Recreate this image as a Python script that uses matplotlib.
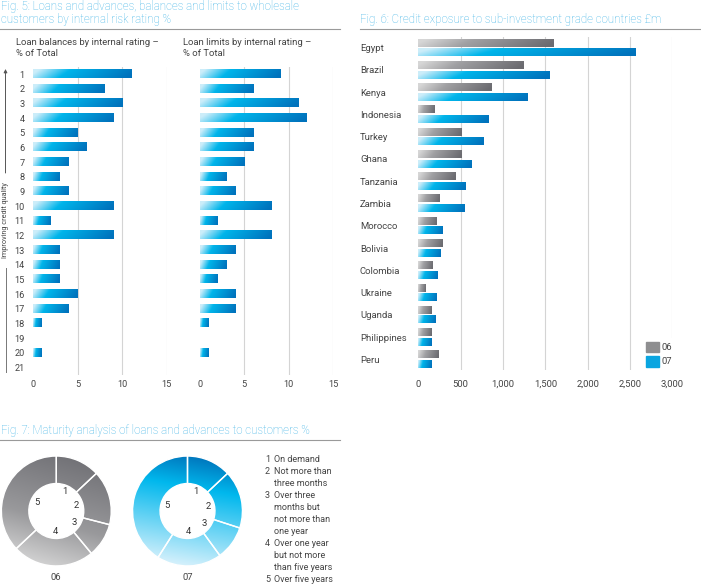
import numpy as np
import matplotlib.pyplot as plt
from matplotlib.lines import Line2D
from matplotlib.patches import Patch
from matplotlib.ticker import FuncFormatter

plt.rcParams['font.family'] = ['Roboto', 'DejaVu Sans']

W, H = 701, 584
TITLE_C = '#3fb3e6'
TEXT_C = '#444444'
GRID_C = '#d4d4d4'

# ---- data ----
ratings = [str(i) for i in range(1, 22)]
loan_balances = [11, 8, 10, 9, 5, 6, 4, 3, 4, 9, 2, 9, 3, 3, 3, 5, 4, 1, 0, 1, 0]
loan_limits = [9, 6, 11, 12, 6, 6, 5, 3, 4, 8, 2, 8, 4, 3, 2, 4, 4, 1, 0, 1, 0]
fig5_ticks = [0, 5, 10, 15]

countries = ['Egypt', 'Brazil', 'Kenya', 'Indonesia', 'Turkey', 'Ghana', 'Tanzania',
             'Zambia', 'Morocco', 'Bolivia', 'Colombia', 'Ukraine', 'Uganda',
             'Philippines', 'Peru']
exposure_06 = [1600, 1250, 870, 200, 515, 515, 440, 250, 215, 290, 170, 90, 155, 165, 240]
exposure_07 = [2570, 1555, 1290, 830, 775, 630, 565, 545, 290, 270, 235, 220, 210, 165, 160]
fig6_ticks = [0, 500, 1000, 1500, 2000, 2500, 3000]

maturity_labels = ['1', '2', '3', '4', '5']
maturity_06 = [13, 16, 10, 24, 37]
maturity_07 = [13, 17, 10, 19, 41]
maturity_legend = [
    ('1', ['On demand']),
    ('2', ['Not more than', 'three months']),
    ('3', ['Over three', 'months but', 'not more than', 'one year']),
    ('4', ['Over one year', 'but not more', 'than five years']),
    ('5', ['Over five years']),
]

BLUE_STOPS = [(0.0, (0.80, 0.93, 0.98)), (0.32, (0.0, 0.71, 0.92)), (1.0, (0.0, 0.45, 0.74))]
GREY_STOPS = [(0.0, (0.84, 0.84, 0.84)), (0.35, (0.63, 0.63, 0.64)), (1.0, (0.42, 0.42, 0.44))]


def ramp(stops, t):
    pos = [s[0] for s in stops]
    out = np.zeros(t.shape + (3,))
    for c in range(3):
        out[..., c] = np.interp(t, pos, [s[1][c] for s in stops])
    return out


def bar_gradient(stops):
    xs = np.linspace(0, 1, 120)
    ys = np.linspace(0, 1, 12)
    t = xs[None, :] + 0.12 * (ys[:, None] - 0.5)
    return ramp(stops, np.clip(t, 0, 1))


def shade_bars(ax, bars, stops):
    img = bar_gradient(stops)
    for b in bars:
        if b.get_width() <= 0:
            continue
        x0, y0, w, h = b.get_x(), b.get_y(), b.get_width(), b.get_height()
        ax.imshow(img, extent=(x0, x0 + w, y0 + h, y0), origin='upper',
                  aspect='auto', zorder=3, interpolation='bilinear')


def px_axes(left, top, width, height):
    return fig.add_axes([left / W, 1 - (top + height) / H, width / W, height / H])


def fx(x):
    return x / W


def fy(y):
    return 1 - y / H


fig = plt.figure(figsize=(W / 100, H / 100), dpi=100)
TITLE_FS = 8.3

# ---- Fig. 5 ----
fig.text(fx(1), fy(10), 'Fig. 5: Loans and advances, balances and limits to wholesale',
         color=TITLE_C, fontsize=TITLE_FS, fontweight='light', va='baseline')
fig.text(fx(1), fy(23.5), 'customers by internal risk rating %',
         color=TITLE_C, fontsize=TITLE_FS, fontweight='light', va='baseline')
fig.add_artist(Line2D([0, fx(340)], [fy(29), fy(29)], color='#9a9a9a', lw=0.8))

for left, vals, sub, show_labels in [
        (33, loan_balances, 'Loan balances by internal rating –\n% of Total', True),
        (199.7, loan_limits, 'Loan limits by internal rating –\n% of Total', False)]:
    ax = px_axes(left, 66.7, 133.7, 308)
    y = np.arange(1, len(ratings) + 1)
    bars = ax.barh(y, vals, height=0.55, color='#00a6e0', zorder=2)
    shade_bars(ax, bars, BLUE_STOPS)
    for t in fig5_ticks[1:]:
        ax.axvline(t, color=GRID_C, lw=0.8, zorder=1)
    ax.set_xlim(0, 15)
    ax.set_ylim(21.5, 0.5)
    ax.set_xticks(fig5_ticks)
    ax.set_yticks(y)
    ax.set_yticklabels(ratings if show_labels else [])
    ax.tick_params(length=0, labelsize=6.6, colors=TEXT_C)
    ax.tick_params(axis='x', pad=4)
    ax.tick_params(axis='y', pad=6)
    for s in ax.spines.values():
        s.set_visible(False)
    fig.text(fx(left - 16.5), fy(45), sub.split('\n')[0], fontsize=6.8, color=TEXT_C,
             va='baseline')
    fig.text(fx(left - 16.5), fy(56), sub.split('\n')[1], fontsize=6.8, color=TEXT_C,
             va='baseline')

fig.text(fx(5.5), fy(220.5), 'Improving credit quality', rotation=90, fontsize=5.2,
         color=TEXT_C, ha='center', va='center')
fig.add_artist(Line2D([fx(5.5), fx(5.5)], [fy(268), fy(372)], color='#777777', lw=0.7))
fig.add_artist(plt.Annotation('', xy=(fx(5.5), fy(69)), xytext=(fx(5.5), fy(173)),
                              xycoords='figure fraction', textcoords='figure fraction',
                              arrowprops=dict(arrowstyle='-|>', color='#555555', lw=0.7,
                                              mutation_scale=5, shrinkA=0, shrinkB=0)))

# ---- Fig. 6 ----
fig.text(fx(360), fy(23.3), 'Fig. 6: Credit exposure to sub-investment grade countries £m',
         color=TITLE_C, fontsize=TITLE_FS, fontweight='light', va='baseline')
fig.add_artist(Line2D([fx(360), 1], [fy(28.5), fy(28.5)], color='#9a9a9a', lw=0.8))

ax6 = px_axes(418.3, 36.6, 254, 333.8)
yc = np.arange(len(countries))
b06 = ax6.barh(yc - 0.215, exposure_06, height=0.34, color='#8e8e90', zorder=2)
b07 = ax6.barh(yc + 0.215, exposure_07, height=0.34, color='#0aa5e0', zorder=2)
shade_bars(ax6, b06, GREY_STOPS)
shade_bars(ax6, b07, BLUE_STOPS)
for t in fig6_ticks[1:]:
    ax6.axvline(t, color=GRID_C, lw=0.8, zorder=1)
ax6.set_xlim(0, 3000)
ax6.set_ylim(len(countries) - 0.5, -0.5)
ax6.set_xticks(fig6_ticks)
ax6.xaxis.set_major_formatter(FuncFormatter(lambda v, p: f'{v:,.0f}'))
ax6.set_yticks(yc)
ax6.set_yticklabels(countries, ha='left')
ax6.tick_params(length=0, labelsize=6.8, colors=TEXT_C)
ax6.tick_params(axis='x', pad=7)
ax6.tick_params(axis='y', pad=42)
for s in ax6.spines.values():
    s.set_visible(False)
leg = ax6.legend([Patch(color='#8e8e90'), Patch(color='#0aa5e0')], ['06', '07'],
                 loc='lower right', bbox_to_anchor=(1.015, 0.0), frameon=True,
                 fontsize=6.8, handlelength=1.4, handleheight=1.4, handletextpad=0.3,
                 labelspacing=0.35, borderpad=0.4, borderaxespad=0.0)
leg.get_frame().set_facecolor('white')
leg.get_frame().set_edgecolor('none')
leg.get_frame().set_alpha(1)
for txt in leg.get_texts():
    txt.set_color(TEXT_C)
leg.set_zorder(5)

# ---- Fig. 7 ----
fig.text(fx(1), fy(434), 'Fig. 7: Maturity analysis of loans and advances to customers %',
         color=TITLE_C, fontsize=TITLE_FS, fontweight='light', va='baseline')
fig.add_artist(Line2D([0, fx(340)], [fy(439.5), fy(439.5)], color='#9a9a9a', lw=0.8))


def donut(cx, vals, stops, tilt, year):
    ax = px_axes(cx - 55.5, 511 - 55.5, 111, 111)
    wedges, _ = ax.pie(vals, startangle=90, counterclock=False, radius=1,
                       wedgeprops=dict(width=0.5, facecolor='none', edgecolor='white',
                                       linewidth=1.0))
    g = np.linspace(-1, 1, 200)
    xx, yy = np.meshgrid(g, g)
    s = tilt * xx + yy
    img = ramp(stops, s)
    for w, lab in zip(wedges, maturity_labels):
        im = ax.imshow(img, extent=(-1, 1, -1, 1), origin='lower', zorder=1,
                       interpolation='bilinear')
        im.set_clip_path(w)
        w.set_zorder(2)
        th = np.deg2rad((w.theta1 + w.theta2) / 2)
        ax.text(0.38 * np.cos(th), 0.38 * np.sin(th), lab, ha='center', va='center',
                fontsize=6.8, color='#333333')
    ax.set_xlim(-1.01, 1.01)
    ax.set_ylim(-1.01, 1.01)
    ax.set_aspect('equal')
    ax.axis('off')
    fig.text(fx(cx), fy(577.5), year, ha='center', va='center', fontsize=6.8, color=TEXT_C)


donut(56.3, maturity_06,
      [(-1.2, (0.86, 0.86, 0.86)), (-0.2, (0.60, 0.60, 0.61)), (1.2, (0.43, 0.43, 0.45))],
      0.3, '06')
donut(187.5, maturity_07,
      [(-1.05, (0.86, 0.95, 0.99)), (0.45, (0.0, 0.72, 0.93)), (1.05, (0.0, 0.45, 0.73))],
      0.18, '07')

row = 0
for num, lines in maturity_legend:
    ycen = 459.3 + 12 * row
    fig.text(fx(265), fy(ycen), num, fontsize=6.5, color=TEXT_C, va='center')
    for ln in lines:
        fig.text(fx(274), fy(459.3 + 12 * row), ln, fontsize=6.5, color=TEXT_C,
                 va='center')
        row += 1

fig.savefig('out.png', dpi=100)
